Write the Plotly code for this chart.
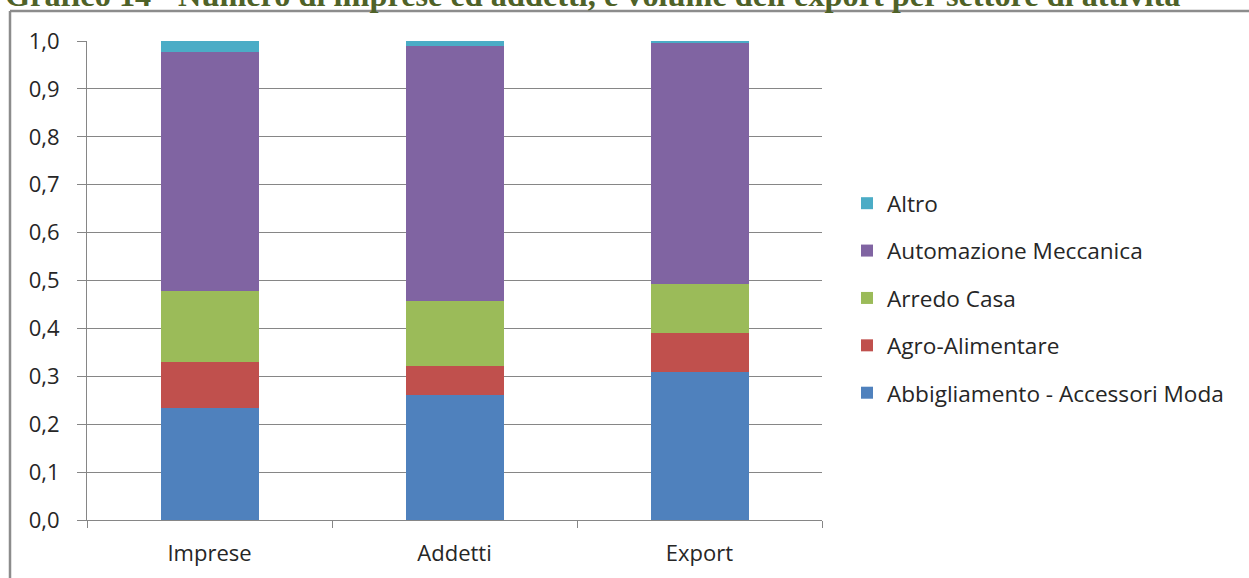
import plotly.graph_objects as go

categories = ["Imprese", "Addetti", "Export"]
series_names = [
    "Abbigliamento - Accessori Moda",
    "Agro-Alimentare",
    "Arredo Casa",
    "Automazione Meccanica",
    "Altro",
]
abbigliamento = [0.234, 0.261, 0.308]
agro = [0.096, 0.060, 0.083]
arredo = [0.148, 0.137, 0.101]
automazione = [0.499, 0.532, 0.505]
altro = [0.023, 0.010, 0.003]
colors = ["#4F81BD", "#C0504D", "#9BBB59", "#8064A2", "#4BACC6"]
y_ticks = [i / 10 for i in range(11)]
y_tick_labels = [f"{v:.1f}".replace(".", ",") for v in y_ticks]
title_text = "Grafico 14 - Numero di imprese ed addetti, e volume dell'export per settore di attività"

W, H = 1249, 578
L, R, T, B = 87, 822, 41, 520  # plot area in pixels
pw, ph = R - L, B - T


def px_x(x):
    return (x - L) / pw


def px_y(y):
    return (B - y) / ph


fig = go.Figure()
n = len(series_names)
for i, (name, vals, col) in enumerate(zip(series_names, [abbigliamento, agro, arredo, automazione, altro], colors)):
    fig.add_trace(go.Bar(x=categories, y=vals, name=name, legendgroup=name,
                         legendrank=n - i,
                         marker=dict(color=col, line=dict(width=0))))

font_family = "Open Sans, DejaVu Sans, sans-serif"
axis_font = dict(family=font_family, size=22, color="#262626")

fig.update_layout(
    width=W, height=H,
    barmode="stack", bargap=0.6,
    plot_bgcolor="white", paper_bgcolor="white",
    margin=dict(l=L, r=W - R, t=T, b=H - B, autoexpand=False),
    showlegend=True,
    legend=dict(
        traceorder="grouped",
        x=px_x(847), y=px_y(182), xanchor="left", yanchor="top",
        font=dict(family=font_family, size=22.6, color="#262626"),
        tracegroupgap=15,
        bgcolor="rgba(0,0,0,0)",
    ),
    xaxis=dict(
        showline=True, linecolor="#868686", linewidth=1,
        ticks="outside", tickson="boundaries", ticklen=7, tickcolor="#868686",
        tickfont=axis_font, showgrid=False, ticklabelstandoff=14,
    ),
    yaxis=dict(
        range=[0, 1], tickvals=y_ticks, ticktext=y_tick_labels,
        showline=True, linecolor="#868686", linewidth=1,
        ticks="outside", ticklen=9, tickcolor="#868686",
        showgrid=True, gridcolor="#868686", gridwidth=1,
        tickfont=axis_font, zeroline=False, ticklabelstandoff=13,
    ),
    shapes=[
        dict(type="line", xref="paper", yref="paper",
             x0=px_x(10), x1=px_x(1260), y0=px_y(11), y1=px_y(11),
             line=dict(color="#8C8C8C", width=2.5)),
        dict(type="line", xref="paper", yref="paper",
             x0=px_x(10), x1=px_x(10), y0=px_y(11), y1=px_y(590),
             line=dict(color="#8C8C8C", width=2.5)),
    ],
    annotations=[
        dict(text="<b>" + title_text + "</b>", xref="paper", yref="paper",
             x=px_x(3), y=px_y(15), xanchor="left", yanchor="bottom",
             showarrow=False,
             font=dict(family="Liberation Serif, Times New Roman, serif", size=32.3, color="#4F6228")),
    ],
)

fig.write_html("out.html")
